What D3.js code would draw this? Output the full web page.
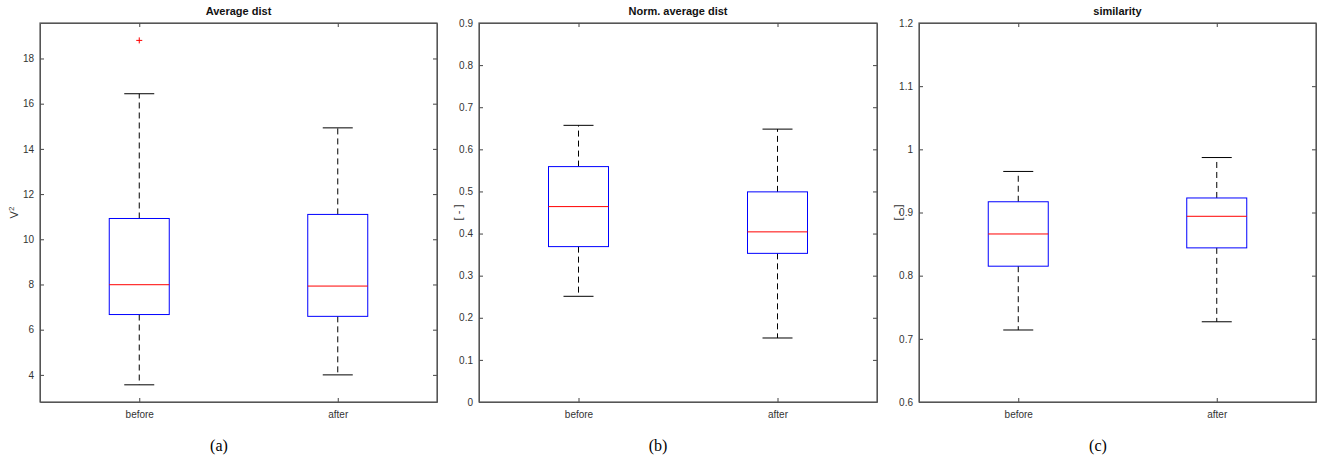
<!DOCTYPE html>
<html>
<head>
<meta charset="utf-8">
<script src="https://cdn.jsdelivr.net/npm/d3@7"></script>
<style>
  body { margin: 0; background: #fff; }
  text { font-family: "Liberation Sans", Arial, sans-serif; }
  .tick text { font-size: 10px; fill: #333; }
  .title { font-size: 11px; font-weight: bold; fill: #111; }
  .cap { font-family: "Liberation Serif", "Times New Roman", serif; font-size: 16px; fill: #000; }
</style>
</head>
<body>
<script>
var width = 1326, height = 464;

// data: [lower whisker, q1, median, q3, upper whisker] per group
var groups = ["before", "after"];
var titles = ["Average dist", "Norm. average dist", "similarity"];
var captions = ["(a)", "(b)", "(c)"];
var avgDist = [[3.56, 6.67, 7.99, 10.92, 16.44], [4.0, 6.59, 7.93, 11.1, 14.93]];
var avgDistOut = [[18.8], []];
var normDist = [[0.251, 0.369, 0.464, 0.559, 0.657], [0.152, 0.353, 0.404, 0.499, 0.648]];
var similarity = [[0.714, 0.815, 0.866, 0.917, 0.965], [0.727, 0.844, 0.894, 0.923, 0.987]];
var ticksA = [4, 6, 8, 10, 12, 14, 16, 18];
var ticksB = [0, 0.1, 0.2, 0.3, 0.4, 0.5, 0.6, 0.7, 0.8, 0.9];
var ticksC = [0.6, 0.7, 0.8, 0.9, 1, 1.1, 1.2];

var panels = [
  {left: 40, right: 437, domain: [2.8, 19.57], stats: avgDist, out: avgDistOut, ticks: ticksA, ylab: "V", sup: true, ylx: 18, capx: 219},
  {left: 479, right: 877, domain: [0, 0.9], stats: normDist, out: [[], []], ticks: ticksB, ylab: "[ - ]", ylx: 462, capx: 658},
  {left: 919, right: 1316, domain: [0.6, 1.2], stats: similarity, out: [[], []], ticks: ticksC, ylab: "[ - ]", ylx: 902, capx: 1098}
];
var yTop = 23, yBottom = 402;

var svg = d3.select("body").append("svg")
            .attr("width", width).attr("height", height);

panels.forEach(function(p, k){
  var x = d3.scalePoint().domain(groups).range([p.left, p.right]).padding(0.5);
  var y = d3.scaleLinear().domain(p.domain).range([yBottom, yTop]);
  var g = svg.append("g");
  var fmt = function(d){ return String(+d.toFixed(1)); };

  // axes (MATLAB style box with inner ticks)
  g.append("g").attr("transform", "translate(" + p.left + ",0)")
   .call(d3.axisLeft(y).tickValues(p.ticks).tickFormat(fmt).tickSizeInner(-4).tickSizeOuter(0).tickPadding(6));
  g.append("g").attr("transform", "translate(" + p.right + ",0)")
   .call(d3.axisRight(y).tickValues(p.ticks).tickFormat("").tickSizeInner(-4).tickSizeOuter(0));
  var xb = g.append("g").attr("transform", "translate(0," + yBottom + ")")
            .call(d3.axisBottom(x).tickSizeInner(-4).tickSizeOuter(0).tickPadding(9));
  g.append("g").attr("transform", "translate(0," + yTop + ")")
   .call(d3.axisTop(x).tickFormat("").tickSizeInner(-4).tickSizeOuter(0));
  g.selectAll(".domain").attr("stroke", "#555");
  g.selectAll(".tick line").attr("stroke", "#444");
  xb.selectAll("text").style("font-size", "10px");
  g.append("rect").attr("x", p.left).attr("y", yTop)
   .attr("width", p.right - p.left).attr("height", yBottom - yTop)
   .attr("fill", "none").attr("stroke", "#555").attr("stroke-width", 1.2);

  var bw = 60, cw = 30;
  groups.forEach(function(name, i){
    var s = p.stats[i], cx = x(name);
    // whiskers
    g.append("line").attr("x1", cx).attr("x2", cx).attr("y1", y(s[3])).attr("y2", y(s[4]))
     .attr("stroke", "#000").attr("stroke-dasharray", "6,4");
    g.append("line").attr("x1", cx).attr("x2", cx).attr("y1", y(s[1])).attr("y2", y(s[0]))
     .attr("stroke", "#000").attr("stroke-dasharray", "6,4");
    [s[0], s[4]].forEach(function(v){
      g.append("line").attr("x1", cx - cw / 2).attr("x2", cx + cw / 2)
       .attr("y1", y(v)).attr("y2", y(v)).attr("stroke", "#000");
    });
    // box
    g.append("rect").attr("x", cx - bw / 2).attr("y", y(s[3]))
     .attr("width", bw).attr("height", y(s[1]) - y(s[3]))
     .attr("fill", "none").attr("stroke", "#0000ff");
    g.append("line").attr("x1", cx - bw / 2).attr("x2", cx + bw / 2)
     .attr("y1", y(s[2])).attr("y2", y(s[2])).attr("stroke", "#ff0000");
    // outliers
    p.out[i].forEach(function(v){
      g.append("path").attr("d", "M-3,0H3M0,-3V3")
       .attr("transform", "translate(" + cx + "," + y(v) + ")")
       .attr("fill", "none").attr("stroke", "#ff0000");
    });
  });

  // titles & labels
  g.append("text").attr("class", "title").attr("x", (p.left + p.right) / 2).attr("y", 15)
   .attr("text-anchor", "middle").text(titles[k]);
  var lab = g.append("text").attr("transform", "translate(" + p.ylx + "," + (yTop + yBottom) / 2 + ") rotate(-90)")
   .attr("text-anchor", "middle").style("font-size", "11px").attr("fill", "#333").text(p.ylab);
  if (p.sup) lab.append("tspan").attr("dy", -4).style("font-size", "8px").text("2");
  g.append("text").attr("class", "cap").attr("x", p.capx).attr("y", 451)
   .attr("text-anchor", "middle").text(captions[k]);
});
</script>
</body>
</html>
